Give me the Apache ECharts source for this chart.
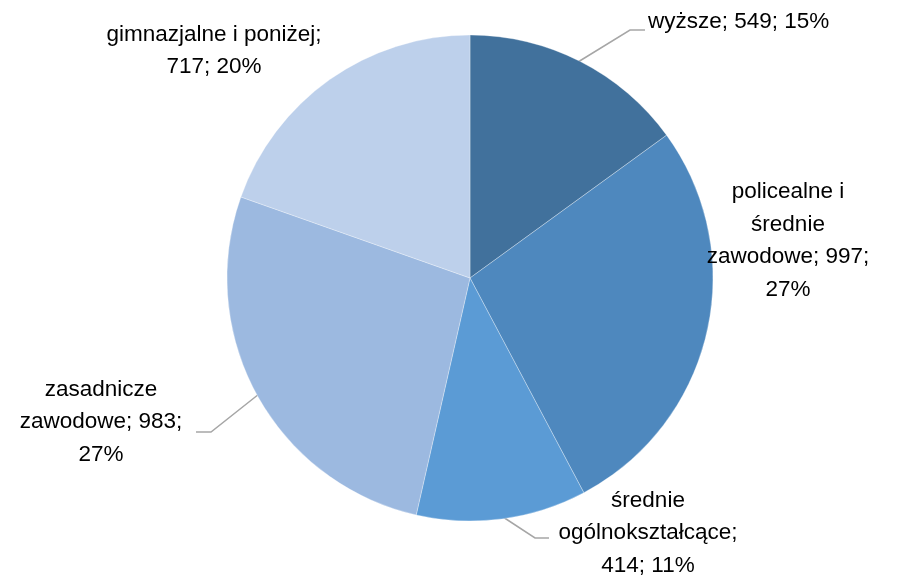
<!DOCTYPE html>
<html lang="pl">
<head>
  <meta charset="UTF-8">
  <title>Wykształcenie</title>
  <script src="https://cdn.jsdelivr.net/npm/echarts@6/dist/echarts.min.js"></script>
  <style>
    html, body { margin: 0; padding: 0; background: #fff; }
    #chart { width: 903px; height: 578px; }
  </style>
</head>
<body>
  <div id="chart"></div>
  <script>
    // dane
    var categories = ['wyższe', 'policealne i średnie zawodowe', 'średnie ogólnokształcące', 'zasadnicze zawodowe', 'gimnazjalne i poniżej'];
    var values = [549, 997, 414, 983, 717];
    var colors = ['#41719C', '#4E88BE', '#5B9BD5', '#9CB9E0', '#BDD0EB'];

    // ile słów w każdej linii etykiety
    var wrap = [[3], [2, 1, 2, 1], [1, 1, 2], [1, 2, 1], [3, 2]];
    // pozycje etykiet
    var labelPos = [
      { x: 648, y: 22, align: 'left', line: [[578, 62], [630, 30], [645, 30]] },
      { x: 788, y: 241, align: 'center' },
      { x: 648, y: 533, align: 'center', line: [[503, 517], [535, 538], [549, 538]] },
      { x: 101, y: 422, align: 'center', line: [[259, 394], [211, 432], [196, 432]] },
      { x: 214, y: 51, align: 'center' }
    ];

    var chart = echarts.init(document.getElementById('chart'));

    var data = categories.map(function (c, i) {
      return { name: c, value: values[i], itemStyle: { color: colors[i] } };
    });

    chart.setOption({
      animation: false,
      series: [{
        type: 'pie',
        center: [470, 278],
        radius: 243,
        startAngle: 90,
        clockwise: true,
        data: data,
        itemStyle: { borderColor: 'rgba(255,255,255,0.6)', borderWidth: 0.5 },
        label: {
          show: true,
          position: 'outside',
          color: '#000',
          fontFamily: 'Liberation Sans',
          fontSize: 22.5,
          lineHeight: 32.5,
          overflow: 'none',
          formatter: function (p) {
            var words = (p.name + '; ' + p.value + '; ' + Math.round(p.percent) + '%').split(' ');
            var lines = [], k = 0;
            wrap[p.dataIndex].forEach(function (n) {
              lines.push(words.slice(k, k + n).join(' '));
              k += n;
            });
            return lines.join('\n');
          }
        },
        labelLine: {
          show: true,
          lineStyle: { color: '#A6A6A6', width: 1.5 }
        },
        labelLayout: function (params) {
          var pos = labelPos[params.dataIndex];
          var out = { x: pos.x, y: pos.y, align: pos.align, verticalAlign: 'middle' };
          out.labelLinePoints = pos.line || [[0, 0], [0, 0], [0, 0]];
          return out;
        }
      }]
    });
  </script>
</body>
</html>
